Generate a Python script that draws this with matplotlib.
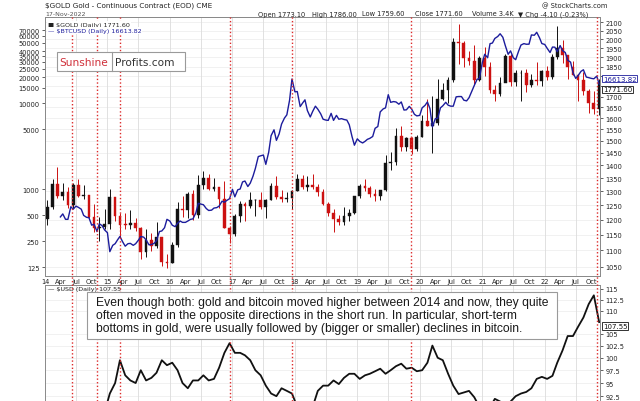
import matplotlib
matplotlib.use("Agg")
import matplotlib.pyplot as plt
import matplotlib.transforms as mtransforms
from matplotlib.patches import Rectangle
from matplotlib.lines import Line2D
from matplotlib.ticker import FixedLocator, FixedFormatter, NullLocator
import pandas as pd

W, H = 640, 402


def fx(px):
    return px / W


def fy(py):
    return 1 - py / H


# --- данные: золото (месячные свечи), 2014-01 .. 2022-11 ---
gold_prev = 1202
gold_close = [1244, 1326, 1284, 1296, 1250, 1322, 1282, 1287, 1210, 1171, 1175, 1184,
              1279, 1212, 1183, 1182, 1189, 1172, 1095, 1132, 1114, 1142, 1065, 1061,
              1116, 1238, 1234, 1292, 1216, 1322, 1351, 1309, 1316, 1272, 1173, 1152,
              1211, 1254, 1249, 1268, 1268, 1242, 1269, 1321, 1280, 1271, 1275, 1303,
              1345, 1318, 1325, 1315, 1299, 1253, 1224, 1201, 1192, 1214, 1222, 1282,
              1321, 1313, 1292, 1284, 1305, 1409, 1413, 1520, 1472, 1513, 1464, 1517,
              1587, 1566, 1577, 1687, 1730, 1781, 1985, 1978, 1895, 1879, 1780, 1895,
              1850, 1734, 1715, 1769, 1906, 1770, 1817, 1818, 1757, 1784, 1776, 1829,
              1797, 1900, 1949, 1911, 1848, 1807, 1781, 1726, 1672, 1640, 1771]
gold_high = [1270, 1346, 1392, 1331, 1315, 1330, 1345, 1324, 1287, 1256, 1208, 1238,
             1307, 1275, 1224, 1224, 1232, 1205, 1175, 1170, 1157, 1191, 1142, 1088,
             1126, 1263, 1283, 1297, 1306, 1362, 1377, 1367, 1352, 1318, 1337, 1180,
             1220, 1264, 1262, 1297, 1274, 1296, 1274, 1331, 1358, 1306, 1299, 1306,
             1366, 1361, 1356, 1365, 1326, 1309, 1263, 1236, 1215, 1243, 1238, 1284,
             1326, 1346, 1321, 1310, 1306, 1439, 1452, 1555, 1566, 1518, 1516, 1525,
             1613, 1691, 1704, 1788, 1765, 1796, 2006, 2089, 1992, 1933, 1965, 1907,
             1959, 1873, 1755, 1797, 1916, 1919, 1834, 1831, 1836, 1813, 1877, 1831,
             1853, 1916, 2078, 1998, 1910, 1879, 1814, 1824, 1735, 1729, 1786]
gold_low = [1182, 1238, 1277, 1268, 1240, 1240, 1280, 1273, 1205, 1160, 1131, 1169,
            1167, 1196, 1142, 1170, 1170, 1162, 1072, 1080, 1098, 1108, 1052, 1046,
            1061, 1110, 1208, 1207, 1200, 1207, 1310, 1306, 1302, 1241, 1171, 1124,
            1146, 1191, 1195, 1240, 1214, 1236, 1205, 1267, 1274, 1260, 1263, 1236,
            1302, 1307, 1303, 1310, 1282, 1250, 1211, 1160, 1181, 1182, 1196, 1221,
            1275, 1302, 1280, 1266, 1267, 1301, 1382, 1400, 1459, 1458, 1445, 1459,
            1517, 1564, 1450, 1567, 1683, 1670, 1771, 1863, 1851, 1860, 1764, 1775,
            1802, 1717, 1677, 1705, 1770, 1750, 1750, 1677, 1721, 1746, 1759, 1753,
            1780, 1786, 1890, 1872, 1787, 1805, 1681, 1709, 1622, 1617, 1616]

# --- биткоин, дважды в месяц, 2014-04 .. 2022-11 ---
btc = [480, 520, 450, 450, 630, 590, 640, 620, 590, 500, 475, 470, 385, 395, 325, 400, 380, 340,
       315, 190, 225, 235, 260, 285, 245, 220, 235, 237, 225, 235, 258, 285, 280, 260, 228, 230,
       237, 255, 325, 330, 360, 450,
       430, 385, 370, 405, 430, 415, 415, 430, 450, 455, 535, 690, 675, 665, 600, 570, 575, 608,
       615, 640, 730, 710, 750, 780,
       1000, 820, 990, 1010, 1220, 1250, 1080, 1180, 1420, 1750, 2400, 2450, 2500, 1950, 2700,
       4200, 4900, 3700, 4400, 5700, 6700, 7300, 10800, 19000,
       13500, 13600, 9100, 10000, 10900, 8200, 6900, 8000, 9200, 8500, 7500, 6500, 6350, 6300,
       7600, 6300, 7200, 6500, 6600, 6450, 6350, 5600, 4100, 3250,
       3850, 3600, 3450, 3600, 3800, 3900, 4100, 5100, 5350, 7900, 8550, 8800, 12500, 10200,
       10400, 10300, 9700, 10300, 8300, 8350, 9150, 8500, 7400, 7100,
       7200, 8800, 9400, 10300, 8600, 5300, 6600, 6650, 8800, 9300, 10200, 9450, 9200, 9200,
       11800, 11900, 11900, 10800, 10600, 11500, 13800, 16000, 18800, 19300,
       29400, 36800, 33500, 48700, 49600, 56000, 59000, 63500, 57800, 46500, 36700, 40200,
       33500, 31800, 39900, 47000, 48800, 48000, 48100, 61500, 61000, 66000, 57200, 48900,
       47700, 43100, 38500, 44500, 44400, 39300, 46300, 40500, 38500, 31300, 29800, 22500,
       19300, 20800, 23300, 24300, 20000, 19700, 19300, 19100, 20500, 16600]

# --- индекс доллара, 2014-01 .. 2022-11 ---
usd = [81.0, 80.5, 80.0, 79.8, 80.0, 80.3, 81.0, 82.5, 85.0, 86.0, 88.0, 89.5,
       93.0, 95.0, 99.5, 96.5, 95.5, 95.0, 97.5, 95.5, 96.0, 97.0, 99.5, 98.5,
       99.0, 97.5, 95.0, 94.0, 95.5, 95.5, 96.5, 95.5, 95.8, 98.0, 101.0, 103.0,
       101.0, 101.0, 100.5, 99.5, 97.5, 96.5, 94.5, 93.0, 92.5, 94.0, 93.5, 93.0,
       90.5, 89.5, 90.0, 90.5, 93.5, 94.5, 94.5, 95.5, 94.8, 96.0, 96.8, 96.8,
       95.8, 96.5, 96.8, 97.3, 97.8, 96.8, 97.5, 98.3, 98.8, 97.8, 98.0, 97.3,
       97.5, 99.0, 102.5, 100.0, 99.5, 96.8, 94.5, 92.9, 93.2, 93.5, 92.3, 90.5,
       90.3, 90.4, 92.0, 91.5, 90.2, 91.5, 92.5, 93.0, 93.3, 94.0, 95.8, 96.2,
       95.8, 96.4, 99.0, 101.5, 104.5, 104.5, 106.5, 108.5, 111.5, 113.5, 107.5]

gold_bottoms = ['2014-06-08', '2014-11-01', '2015-03-15', '2016-12-20',
                '2017-12-15', '2019-11-12', '2022-11-03']

gold_ticks = list(range(1050, 2101, 50))
# 1800 и 1750 закрыты плашками текущих значений
gold_labels = ['' if t in (1750, 1800) else str(t) for t in gold_ticks]
btc_ticks = [125, 250, 500, 1000, 5000, 10000, 15000, 20000, 25000, 30000, 35000,
             40000, 50000, 60000, 70000]
usd_ticks = [92.5, 95, 97.5, 100, 102.5, 105, 110, 112.5, 115]

gold_dates = pd.date_range('2014-01-01', periods=len(gold_close), freq='MS') + pd.Timedelta(days=14)
btc_dates = pd.date_range('2014-04-01', periods=len(btc), freq='SMS')
usd_dates = pd.date_range('2014-01-01', periods=len(usd), freq='MS') + pd.Timedelta(days=14)
x0, x1 = pd.Timestamp('2014-01-01'), pd.Timestamp('2022-11-20')

GRID = '#dcdcdc'
SPINE = '#8a8a8a'
BLUE = '#1c1c9c'
RED = '#cc1111'
TXT = '#222222'

fig = plt.figure(figsize=(6.4, 4.02), dpi=100)

# верхняя панель: золото (правая шкала) и биткоин (левая)
ax_g = fig.add_axes([fx(45), fy(277), fx(600) - fx(45), (277 - 18) / H])
ax_b = ax_g.twinx()

ax_g.set_yscale('log')
ax_g.set_ylim(1023, 2130)
ax_g.set_xlim(x0, x1)
ax_g.yaxis.tick_right()
ax_g.yaxis.set_major_locator(FixedLocator(gold_ticks))
ax_g.yaxis.set_major_formatter(FixedFormatter(gold_labels))
ax_g.yaxis.set_minor_locator(NullLocator())
ax_g.tick_params(axis='y', labelsize=4.8, length=2, pad=2, colors=TXT, width=0.5,
                 left=False, labelleft=False, right=True, labelright=True)
for t in gold_ticks:
    ax_g.axhline(t, color='#ececec', lw=0.5, zorder=0)

quarters = pd.date_range('2014-01-01', '2022-10-01', freq='QS')
qlabels = [f"{d.year % 100:02d}" if d.month == 1 else d.strftime('%b') for d in quarters]
ax_g.xaxis.set_major_locator(FixedLocator([matplotlib.dates.date2num(d) for d in quarters]))
ax_g.xaxis.set_major_formatter(FixedFormatter(qlabels))
ax_g.xaxis.set_minor_locator(NullLocator())
ax_g.tick_params(axis='x', labelsize=4.8, length=0, pad=1.5, colors=TXT)
for d in pd.date_range('2014-01-01', '2022-07-01', freq='6MS'):
    ax_g.axvline(d, color=GRID, lw=0.6, zorder=0)

opens = [gold_prev] + gold_close[:-1]
for d, o, c, hi, lo in zip(gold_dates, opens, gold_close, gold_high, gold_low):
    col = '#111111' if c >= o else RED
    ax_g.vlines(d, lo, hi, colors=col, lw=0.7, zorder=3)
    ax_g.bar(d, max(abs(c - o), 2), bottom=min(o, c), width=16, color=col,
             edgecolor=col, lw=0.3, zorder=3)

ax_b.set_yscale('log')
ax_b.set_ylim(99.3, 99260)
ax_b.set_xlim(x0, x1)
ax_b.yaxis.set_major_locator(FixedLocator(btc_ticks))
ax_b.yaxis.set_major_formatter(FixedFormatter([str(t) for t in btc_ticks]))
ax_b.yaxis.set_minor_locator(NullLocator())
ax_b.tick_params(axis='y', labelsize=4.8, length=2, pad=2, colors=TXT, width=0.5,
                 left=True, labelleft=True, right=False, labelright=False)
ax_b.plot(btc_dates, btc, color=BLUE, lw=1.0, zorder=4)

for a in (ax_g, ax_b):
    for s in a.spines.values():
        s.set_color(SPINE)
        s.set_linewidth(0.7)

# нижняя панель: индекс доллара
ax_u = fig.add_axes([fx(45), 0, fx(600) - fx(45), (402 - 286) / H])
ax_u.set_yscale('log')
ax_u.set_ylim(91.6, 115.9)
ax_u.set_xlim(x0, x1)
ax_u.yaxis.tick_right()
ax_u.yaxis.set_major_locator(FixedLocator(usd_ticks))
ax_u.yaxis.set_major_formatter(FixedFormatter([f"{t:g}" for t in usd_ticks]))
ax_u.yaxis.set_minor_locator(NullLocator())
ax_u.tick_params(axis='y', labelsize=4.8, length=2, pad=2, colors=TXT, width=0.5)
ax_u.set_xticks([])
for t in usd_ticks:
    ax_u.axhline(t, color='#ececec', lw=0.5, zorder=0)
for d in pd.date_range('2014-01-01', '2022-07-01', freq='6MS'):
    ax_u.axvline(d, color=GRID, lw=0.6, zorder=0)
ax_u.plot(usd_dates, usd, color='#111111', lw=1.3, zorder=3)
for k, s in ax_u.spines.items():
    s.set_color(SPINE)
    s.set_linewidth(0.7)
ax_u.spines['bottom'].set_visible(False)

# красные пунктирные линии (локальные минимумы золота)
trans = mtransforms.blended_transform_factory(ax_g.transData, fig.transFigure)
for d in gold_bottoms:
    xd = matplotlib.dates.date2num(pd.Timestamp(d))
    fig.add_artist(Line2D([xd, xd], [0, fy(18)], transform=trans, color='#dd2a2a',
                          lw=1.0, ls=(0, (1, 1.6)), zorder=5))

# заголовки
fig.text(fx(45), fy(6), '$GOLD Gold - Continuous Contract (EOD) CME', fontsize=5.2,
         color=TXT, va='center')
fig.text(fx(45), fy(14.5), '17-Nov-2022', fontsize=4.5, color='#555555', va='center')
fig.text(fx(607), fy(6), '@ StockCharts.com', fontsize=4.8, color=TXT, va='center', ha='right')
header = [(258, 'Open 1773.10'), (312, 'High 1786.00'), (362, 'Low 1759.60'),
          (415, 'Close 1771.60'), (472, 'Volume 3.4K'), (518, '\u25bc Chg -4.10 (-0.23%)')]
for xp, s in header:
    fig.text(fx(xp), fy(14.5), s, fontsize=4.8, color=TXT, va='center')
fig.text(fx(48), fy(25), '\u25a0 $GOLD (Daily) 1771.60', fontsize=4.6, color=TXT, va='center',
         zorder=12, bbox=dict(boxstyle='square,pad=0.1', fc='white', ec='none'))
fig.text(fx(48), fy(31.5), '\u2014 $BTCUSD (Daily) 16613.82', fontsize=4.6, color=BLUE,
         va='center', zorder=12, bbox=dict(boxstyle='square,pad=0.1', fc='white', ec='none'))
fig.text(fx(48), fy(289.5), '\u2014 $USD (Daily) 107.55', fontsize=4.6, color=TXT, va='center')

# текущие значения справа
fig.text(fx(603), fy(79.5), '16613.82', fontsize=5, color=BLUE, va='center', zorder=12,
         bbox=dict(boxstyle='square,pad=0.12', fc='white', ec=BLUE, lw=0.6))
fig.text(fx(603), fy(90.5), '1771.60', fontsize=5, color='#111111', va='center', zorder=12,
         bbox=dict(boxstyle='square,pad=0.12', fc='white', ec='#111111', lw=0.6))
fig.text(fx(603), fy(327), '107.55', fontsize=5, color='#111111', va='center', zorder=12,
         bbox=dict(boxstyle='square,pad=0.12', fc='white', ec='#111111', lw=0.6))

# логотип
fig.add_artist(Rectangle((fx(57), fy(72)), fx(185) - fx(57), (72 - 53) / H,
                         transform=fig.transFigure, fc='white', ec='#9a9a9a', lw=0.8, zorder=10))
fig.add_artist(Line2D([fx(112), fx(112)], [fy(72), fy(53)], transform=fig.transFigure,
                      color='#9a9a9a', lw=0.8, zorder=11))
fig.text(fx(59), fy(62.5), 'Sunshine', fontsize=7.6, color='#d0303a', va='center', zorder=12)
fig.text(fx(115), fy(62.5), 'Profits.com', fontsize=7.6, color='#333333', va='center', zorder=12)

# пояснение
fig.add_artist(Rectangle((fx(87), fy(340)), fx(557) - fx(87), (340 - 293) / H,
                         transform=fig.transFigure, fc='white', ec='#9a9a9a', lw=0.8, zorder=10))
note = ["Even though both: gold and bitcoin moved higher between 2014 and now, they quite",
        "often moved in the opposite directions in the short run. In particular, short-term",
        "bottoms in gold, were usually followed by (bigger or smaller) declines in bitcoin."]
for i, line in enumerate(note):
    fig.text(fx(96), fy(303 + 13.2 * i), line, fontsize=8.7, family='Liberation Sans',
             color='#1a1a1a', va='center', zorder=12)

fig.savefig('out.png', dpi=100)
